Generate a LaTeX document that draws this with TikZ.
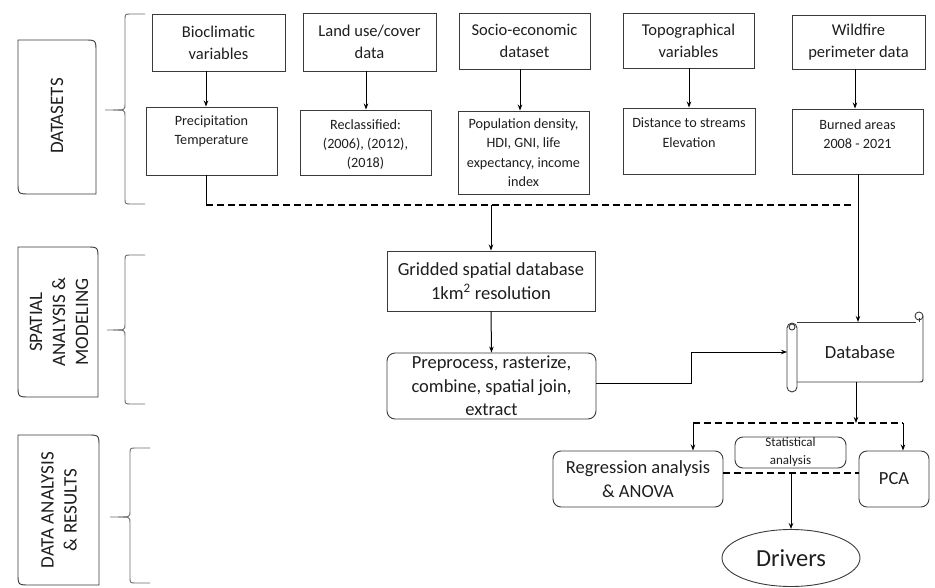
\documentclass[tikz,border=0pt]{standalone}
\usepackage{fontspec}
\setmainfont{Carlito}
\usetikzlibrary{arrows.meta,shapes.geometric}
\definecolor{boxc}{HTML}{3A3A3A}
\definecolor{txtc}{HTML}{1E1E1E}
\definecolor{bracec}{HTML}{6E6E6E}
\begin{document}
\begin{tikzpicture}[x=1pt,y=-1pt,
  box/.style={draw=boxc,line width=0.9pt,inner sep=0pt,text=txtc,align=center},
  rbox/.style={box,rounded corners=8pt},
  fA/.style={font=\fontsize{16.5}{22}\selectfont},
  fB/.style={font=\fontsize{14.2}{19.3}\selectfont},
  fC/.style={font=\fontsize{18.5}{23.5}\selectfont},
  lbl/.style={text=txtc,align=center,rotate=90,font=\fontsize{19}{23}\selectfont},
  tl/.style={anchor=north,text=txtc,align=center,inner sep=0pt,fB},
  arr/.style={-{Stealth[length=6pt,width=4.5pt]},line width=1pt,black},
  ln/.style={line width=1pt,black},
  dsh/.style={dash pattern=on 7pt off 4pt,line width=1.2pt,black},
  brc/.style={draw=bracec,line width=0.9pt},
  sec/.style={draw=boxc,line width=0.9pt}
]
\useasboundingbox (0,0) rectangle (935,588);

% ---- section labels ----
\draw[sec] (18,40) -- (84,40) .. controls (96,40) .. (96,52) -- (96,194) -- (30,194) .. controls (18,194) .. (18,182) -- cycle;
\node[lbl] (lds) at (57,116) {DATASETS};
\draw[sec] (18,247) -- (86,247) .. controls (98,247) .. (98,259) -- (98,397) -- (30,397) .. controls (18,397) .. (18,385) -- cycle;
\node[lbl] (lsa) at (59,322) {SPATIAL\\ANALYSIS \&\\MODELING};
\draw[sec] (18,435) -- (87,435) .. controls (99,435) .. (99,447) -- (99,585) -- (30,585) .. controls (18,585) .. (18,573) -- cycle;
\node[lbl] (lda) at (59,510) {DATA ANALYSIS\\\& RESULTS};

% ---- braces ----
\draw[brc] (145,14) -- (131,14) .. controls (125,14) .. (125,20) -- (125,104) .. controls (125,110) .. (113,110) -- (105,110);
\draw[brc] (113,110) .. controls (125,110) .. (125,116) -- (125,198) .. controls (125,204) .. (131,204) -- (145,204);
\draw[brc] (145,255) -- (131,255) .. controls (125,255) .. (125,261) -- (125,324) .. controls (125,330) .. (113,330) -- (107,330);
\draw[brc] (113,330) .. controls (125,330) .. (125,336) -- (125,398) .. controls (125,404) .. (131,404) -- (145,404);
\draw[brc] (150,448) -- (136,448) .. controls (130,448) .. (130,454) -- (130,511) .. controls (130,517) .. (118,517) -- (110,517);
\draw[brc] (118,517) .. controls (130,517) .. (130,523) -- (130,577) .. controls (130,583) .. (136,583) -- (150,583);

% ---- top row ----
\node[box,fA,minimum width=133pt,minimum height=57pt] (bio) at (218.5,42.5) {Bioclimatic\\variables};
\node[box,fA,minimum width=133pt,minimum height=58pt] (land) at (369.5,42) {Land use/cover\\data};
\node[box,fA,minimum width=131pt,minimum height=56pt] (socio) at (524.5,41) {Socio-economic\\dataset};
\node[box,fA,minimum width=131pt,minimum height=55pt] (topo) at (688.5,40.5) {Topographical\\variables};
\node[box,fA,minimum width=133pt,minimum height=54pt] (wild) at (858.5,42) {Wildfire\\perimeter data};

% ---- second row ----
\node[box,minimum width=131pt,minimum height=68pt] (prec) at (211.5,141) {};
\node[tl] (precT) at (211.5,115) {Precipitation\\Temperature};
\node[box,minimum width=131pt,minimum height=65pt] (recl) at (365.5,142.5) {};
\node[tl] (reclT) at (365.5,119) {Reclassified:\\(2006), (2012),\\(2018)};
\node[box,fB,minimum width=131pt,minimum height=83pt] (pop) at (523.5,152.5) {Population density,\\HDI, GNI, life\\expectancy, income\\index};
\node[box,minimum width=132pt,minimum height=66pt] (dist) at (689,141) {};
\node[tl] (distT) at (689,118) {Distance to streams\\Elevation};
\node[box,minimum width=131pt,minimum height=65pt] (burn) at (857.5,141.5) {};
\node[tl] (burnT) at (857.5,119) {Burned areas\\2008 - 2021};

\draw[arr] (bio.south -| 206,0) -- (prec.north -| 206,0);
\draw[arr] (land.south -| 366,0) -- (recl.north -| 366,0);
\draw[arr] (socio.south -| 520,0) -- (pop.north -| 520,0);
\draw[arr] (topo.south -| 689,0) -- (dist.north -| 689,0);
\draw[arr] (wild.south -| 855,0) -- (burn.north -| 855,0);

% ---- spatial analysis ----
\node[box,fC,minimum width=208pt,minimum height=60pt] (grid) at (491,281) {Gridded spatial database\\1km\textsuperscript{2} resolution};
\node[rbox,fC,minimum width=209pt,minimum height=66pt] (prep) at (491.5,386) {Preprocess, rasterize,\\combine, spatial join,\\extract};

\coordinate (jl) at (206,205);
\coordinate (jr) at (853,205);
\coordinate (jm) at (491,205);
\draw[ln] (prec.south -| 206,0) -- (jl);
\draw[dsh] (jl) -- (jr);
\draw[arr] (jm) -- (grid.north);
\draw[arr] (grid.south) -- (prep.north);

% ---- database scroll ----
\node[inner sep=0pt,minimum width=126pt,minimum height=60pt,text=txtc,font=\fontsize{18.6}{20}\selectfont] (db) at (860,352) {Database};
\draw[boxc,line width=0.9pt] (797,322) -- (916,322);
\draw[boxc,line width=0.9pt] (923,316) -- (923,377) .. controls (923,382) .. (918,382) -- (797,382);
\draw[boxc,line width=0.9pt] (919,316) circle (4pt);
\draw[boxc,line width=0.9pt] (919,318) -- (919,322);
\draw[boxc,line width=0.9pt,rounded corners=5pt] (787,323) rectangle (797,392);
\draw[boxc,line width=0.9pt] (792,327) circle (3pt);

\draw[arr] (burn.south -| 858,0) -- (858,322);
\coordinate (b1) at (691,383);
\coordinate (b2) at (691,352);
\draw[arr,line width=0.8pt] (prep.east |- b1) -- (b1) -- (b2) -- (787,352);

% ---- data analysis ----
\node[rbox,font=\fontsize{18.5}{24}\selectfont,minimum width=170pt,minimum height=56pt] (reg) at (638,479) {Regression analysis\\\& ANOVA};
\node[rbox,font=\fontsize{18.5}{24}\selectfont,minimum width=70pt,minimum height=56pt] (pca) at (894,479) {PCA};
\node[rbox,font=\fontsize{13}{18}\selectfont,minimum width=111pt,minimum height=31pt] (stat) at (790.5,452.5) {Statistical\\analysis};
\node[ellipse,draw=boxc,line width=0.9pt,inner sep=0pt,minimum width=138pt,minimum height=57pt,text=txtc,font=\fontsize{24.5}{26}\selectfont] (drv) at (791,558) {Drivers};

\coordinate (d0) at (856,423);
\coordinate (dl) at (693,423);
\coordinate (dr) at (903,423);
\draw[arr,line width=0.8pt] (856,382) -- (d0);
\draw[dsh] (dl) -- (dr);
\draw[arr] (dl) -- (reg.north -| dl);
\draw[arr] (dr) -- (pca.north -| dr);
\coordinate (m0) at (791,473);
\draw[dsh] (reg.east |- m0) -- (pca.west |- m0);
\draw[arr] (m0) -- (drv.north);
\end{tikzpicture}
\end{document}
